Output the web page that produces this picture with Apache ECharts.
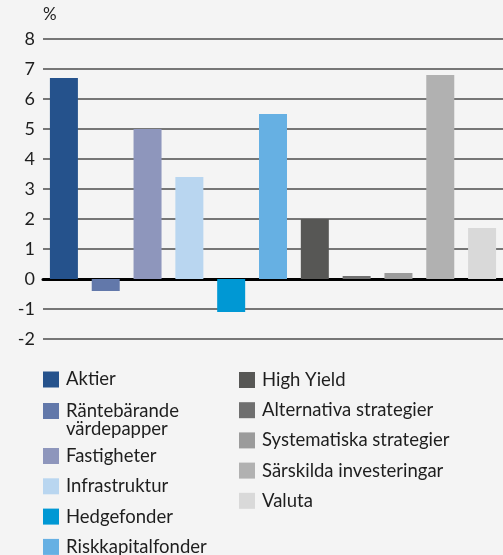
<!DOCTYPE html>
<html>
<head>
<meta charset="utf-8">
<script src="https://cdn.jsdelivr.net/npm/echarts@6/dist/echarts.min.js"></script>
<style>
  html, body { margin: 0; padding: 0; background: #f4f4f4; }
  #chart { width: 503px; height: 555px; }
</style>
</head>
<body>
<div id="chart"></div>
<script>
const categories = [
  "Aktier", "Räntebärande", "Fastigheter", "Infrastruktur", "Hedgefonder",
  "Riskkapitalfonder", "High Yield", "Alternativa strategier",
  "Systematiska strategier", "Särskilda investeringar", "Valuta"
];
const values = [6.7, -0.4, 5.0, 3.4, -1.1, 5.5, 2.0, 0.1, 0.2, 6.8, 1.7];
const colors = [
  "#25528c", "#6278aa", "#8e96bc", "#b9d6f0", "#0098d4", "#66b0e3",
  "#575755", "#6f6f6f", "#9b9b9b", "#b1b1b1", "#d9d9d9"
];
const leftTop = ["Aktier", "Räntebärande"];
const leftBottom = ["Fastigheter", "Infrastruktur", "Hedgefonder", "Riskkapitalfonder"];
const rightCol = ["High Yield", "Alternativa strategier", "Systematiska strategier", "Särskilda investeringar", "Valuta"];

const font = "Lato";
const textColor = "#1e1e1e";
const legendFontSize = 18.5;

let chartDom = document.getElementById("chart");
let myChart = echarts.init(chartDom);
let option;

const legendBase = {
  orient: "vertical",
  icon: "rect",
  itemWidth: 16,
  itemHeight: 16,
  itemGap: 11.3,
  padding: 0,
  height: 180,
  selectedMode: false,
  textStyle: {
    fontFamily: font,
    fontSize: legendFontSize,
    lineHeight: 18,
    color: textColor,
    padding: [0, 0, 0, 2]
  }
};

option = {
  backgroundColor: "#f4f4f4",
  animation: false,
  color: colors,
  grid: {
    left: 43,
    right: -4,
    top: 39,
    height: 300
  },
  legend: [
    Object.assign({}, legendBase, { data: leftTop, left: 43, top: 370, itemGap: 12.5 }),
    Object.assign({}, legendBase, { data: leftBottom, left: 43, top: 446.5 }),
    Object.assign({}, legendBase, { data: rightCol, left: 239, top: 370.5, itemGap: 11.2 })
  ],
  graphic: [
    {
      type: "text",
      x: 66,
      y: 429,
      style: {
        text: "värdepapper",
        font: legendFontSize + "px " + font,
        fill: textColor,
        verticalAlign: "middle"
      }
    }
  ],
  xAxis: {
    type: "category",
    data: categories,
    axisLine: { onZero: true, lineStyle: { color: "#000", width: 3 } },
    axisTick: { show: false },
    axisLabel: { show: false },
    splitLine: { show: false }
  },
  yAxis: {
    type: "value",
    min: -2,
    max: 8,
    interval: 1,
    name: "%",
    nameLocation: "end",
    nameGap: 16,
    nameTextStyle: {
      fontFamily: font,
      fontSize: 17,
      color: textColor,
      align: "left"
    },
    axisLine: { show: false },
    axisTick: { show: false },
    axisLabel: {
      fontFamily: font,
      fontSize: 18,
      color: textColor,
      margin: 8
    },
    splitLine: { lineStyle: { color: "#767676", width: 2 } }
  },
  series: categories.map((name, i) => ({
    name: name,
    type: "bar",
    stack: "all",
    barWidth: 28,
    itemStyle: { color: colors[i] },
    data: values.map((v, j) => (j === i ? v : "-"))
  }))
};

option && myChart.setOption(option);
</script>
</body>
</html>
